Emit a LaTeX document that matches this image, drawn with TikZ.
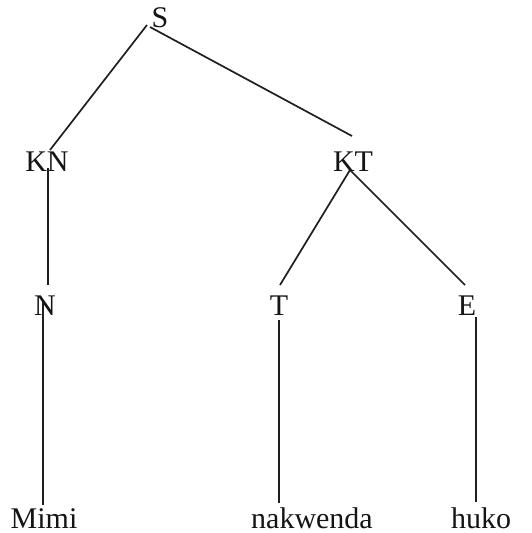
\documentclass[tikz,border=0pt]{standalone}
\usepackage{fontspec}
\setmainfont{Liberation Serif}
\begin{document}
\begin{tikzpicture}[x=1pt,y=-1pt,
  lbl/.style={inner sep=0pt,anchor=base,font=\fontsize{30}{36}\selectfont,text=black!92},
  edge/.style={line width=1.7pt,draw=black!88}]
\useasboundingbox (0,0) rectangle (531,533);
\node[lbl] (S) at (160,27) {S};
\node[lbl] (KN) at (47,171) {KN};
\node[lbl] (KT) at (353,171) {KT};
\node[lbl] (N) at (45,315) {N};
\node[lbl] (T) at (279,315) {T};
\node[lbl] (E) at (467,315) {E};
\node[lbl] (Mimi) at (44,528) {Mimi};
\node[lbl] (nakwenda) at (312,528) {nakwenda};
\node[lbl] (huko) at (481,528) {huko};
\draw[edge] ([shift={(-13,-2)}]S.base) -- ([shift={(3,-21)}]KN.base);
\draw[edge] ([shift={(-10,0)}]S.base) -- ([shift={(-1,-35)}]KT.base);
\draw[edge] ([shift={(1,-3)}]KN.base) -- ([shift={(3,-30)}]N.base);
\draw[edge] ([shift={(-3,-1)}]KT.base) -- ([shift={(1,-30)}]T.base);
\draw[edge] ([shift={(-3,-1)}]KT.base) -- ([shift={(-2,-30)}]E.base);
\draw[edge] ([shift={(-2,-13)}]N.base) -- ([shift={(-1,-23)}]Mimi.base);
\draw[edge] ([shift={(0,5)}]T.base) -- ([shift={(-33,-25)}]nakwenda.base);
\draw[edge] ([shift={(9,2)}]E.base) -- ([shift={(-5,-26)}]huko.base);
\end{tikzpicture}
\end{document}
